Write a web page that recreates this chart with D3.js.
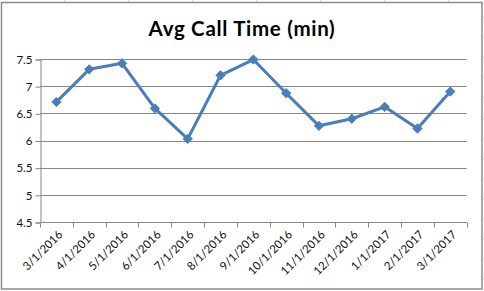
<!DOCTYPE html>
<html>
<head>
<meta charset="utf-8">
<script src="https://cdn.jsdelivr.net/npm/d3@7"></script>
<style>
  body { margin: 0; background: #fff; }
  svg { display: block; font-family: Lato, "Open Sans", sans-serif; }
</style>
</head>
<body>
<svg id="chart" width="484" height="291"></svg>
<script>
"use strict";
const months = ["3/1/2016", "4/1/2016", "5/1/2016", "6/1/2016", "7/1/2016", "8/1/2016", "9/1/2016",
  "10/1/2016", "11/1/2016", "12/1/2016", "1/1/2017", "2/1/2017", "3/1/2017"];
const callTime = [6.71, 7.31, 7.42, 6.59, 6.03, 7.2, 7.49, 6.87, 6.27, 6.4, 6.62, 6.22, 6.9];
const yTicks = [4.5, 5, 5.5, 6, 6.5, 7, 7.5];
const title = "Avg Call Time (min)";

const svg = d3.select("#chart");
const plot = {left: 40, right: 466.7, top: 59, bottom: 222};

// spreadsheet cell lines around the chart
const sheet = svg.append("g").attr("stroke", "#d4d4d4").attr("stroke-width", 1);
d3.range(64, 484, 64).forEach(x => {
  sheet.append("line").attr("x1", x + 0.5).attr("x2", x + 0.5).attr("y1", 0).attr("y2", 2);
});
d3.range(17, 291, 20.1).forEach(y => {
  sheet.append("line").attr("x1", 483).attr("x2", 484).attr("y1", Math.round(y) + 0.5).attr("y2", Math.round(y) + 0.5);
});

// chart frame
svg.append("rect")
  .attr("x", 1.5).attr("y", 2.5)
  .attr("width", 480.5).attr("height", 286.5)
  .attr("fill", "#fff")
  .attr("stroke", "#8c8c8c")
  .attr("stroke-width", 1.5);

svg.append("text")
  .attr("x", 242).attr("y", 36)
  .attr("text-anchor", "middle")
  .attr("font-size", 20.5)
  .attr("font-weight", "bold")
  .attr("letter-spacing", 0.7)
  .attr("fill", "#000")
  .text(title);

const x = d3.scaleBand().domain(months).range([plot.left, plot.right]);
const y = d3.scaleLinear().domain([4.5, 7.5]).range([plot.bottom, plot.top]);

// gridlines
svg.append("g")
  .selectAll("line")
  .data(yTicks)
  .enter()
  .append("line")
  .attr("x1", plot.left).attr("x2", plot.right)
  .attr("y1", d => Math.round(y(d)) + 0.5).attr("y2", d => Math.round(y(d)) + 0.5)
  .attr("stroke", "#868686");

// y axis
const yAxis = svg.append("g")
  .attr("transform", "translate(" + (plot.left + 0.5) + ",0.5)")
  .call(d3.axisLeft(y).tickValues(yTicks).tickSize(5).tickPadding(3).tickFormat(d3.format("")));
yAxis.select(".domain").attr("stroke", "#868686");
yAxis.selectAll(".tick line").attr("stroke", "#868686");
yAxis.selectAll("text").attr("font-size", 11.5).attr("fill", "#111").attr("font-family", "Lato, sans-serif");

// x axis, ticks on band edges
const xAxisG = svg.append("g").attr("transform", "translate(0," + (Math.round(plot.bottom) + 0.5) + ")");
xAxisG.append("line")
  .attr("x1", plot.left).attr("x2", plot.right)
  .attr("stroke", "#868686");
xAxisG.selectAll(".edge")
  .data(months.concat(["end"]))
  .enter()
  .append("line")
  .attr("class", "edge")
  .attr("x1", (d, i) => Math.round(plot.left + i * x.step()) + 0.5)
  .attr("x2", (d, i) => Math.round(plot.left + i * x.step()) + 0.5)
  .attr("y1", 0).attr("y2", 5)
  .attr("stroke", "#868686");
xAxisG.selectAll("text")
  .data(months)
  .enter()
  .append("text")
  .attr("transform", d => "translate(" + (x(d) + x.bandwidth() / 2 + 4) + ",10) rotate(-45)")
  .attr("text-anchor", "end")
  .attr("dy", "0.35em")
  .attr("font-size", 11.5)
  .attr("fill", "#111")
  .text(d => d);

// series
const line = d3.line()
  .x((d, i) => x(months[i]) + x.bandwidth() / 2)
  .y(d => y(d));
svg.append("path")
  .datum(callTime)
  .attr("d", line)
  .attr("fill", "none")
  .attr("stroke", "#4a7ebb")
  .attr("stroke-width", 3)
  .attr("stroke-linejoin", "round");

svg.append("g")
  .selectAll("path")
  .data(callTime)
  .enter()
  .append("path")
  .attr("d", d3.symbol(d3.symbolDiamond2, 55))
  .attr("transform", (d, i) => "translate(" + (x(months[i]) + x.bandwidth() / 2) + "," + y(d) + ")")
  .attr("fill", "#4a7ebb")
  .attr("stroke", "#4a7ebb")
  .attr("stroke-width", 1);
</script>
</body>
</html>
